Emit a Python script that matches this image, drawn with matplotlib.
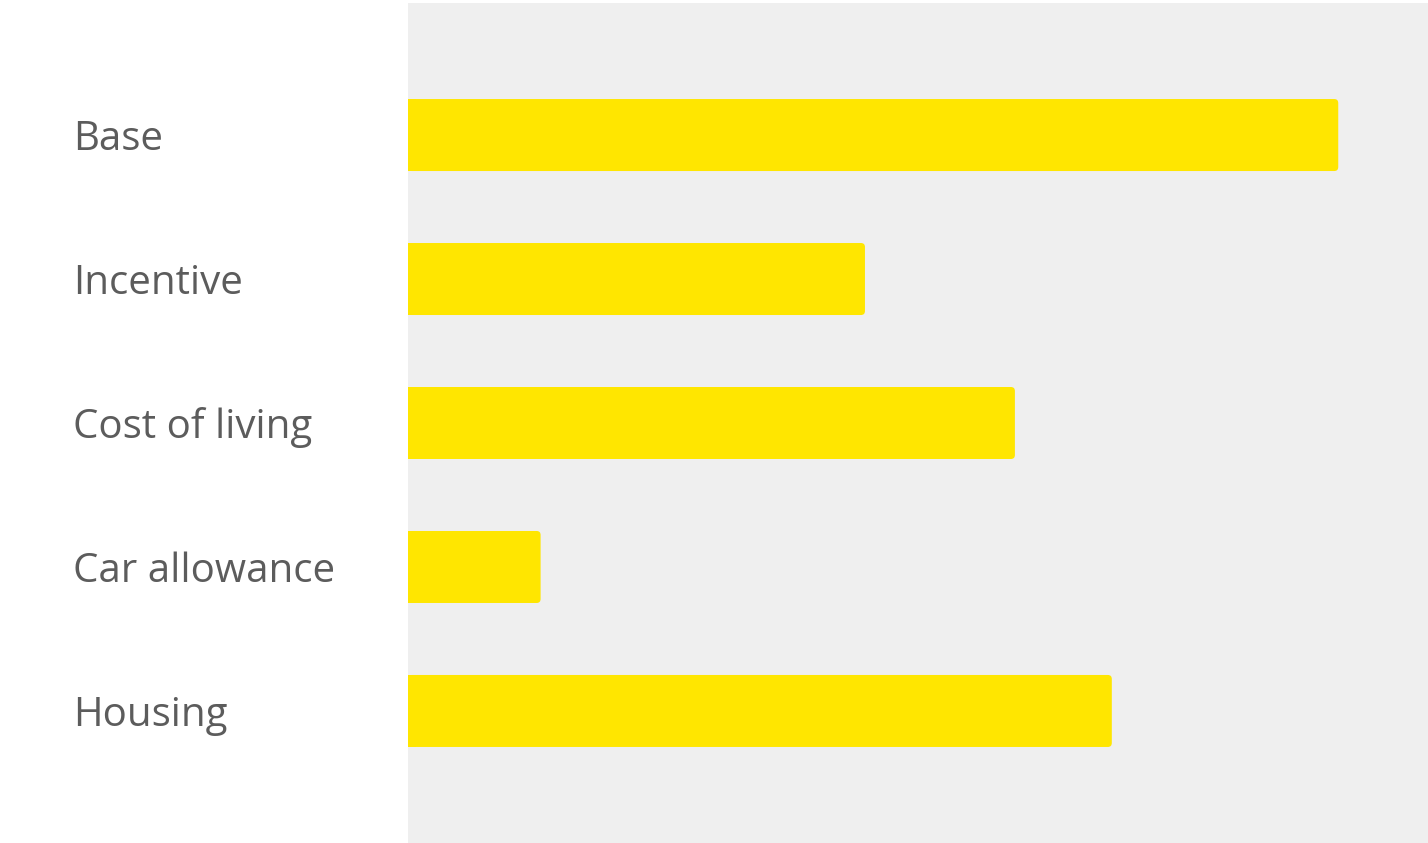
import matplotlib
matplotlib.use('Agg')
import matplotlib.pyplot as plt
from matplotlib.patches import FancyBboxPatch, Rectangle
from matplotlib.transforms import blended_transform_factory

categories = ['Base', 'Incentive', 'Cost of living', 'Car allowance', 'Housing']
values = [91.2, 44.8, 59.5, 13.0, 69.0]

W, H = 1428, 843
fig = plt.figure(figsize=(W / 100, H / 100), dpi=100)
fig.patch.set_facecolor('white')
ax = fig.add_axes([408 / W, 0, 1020 / W, 840 / H])
ax.set_facecolor('#efefef')
for s in ax.spines.values():
    s.set_visible(False)
ax.set_xticks([])
ax.set_yticks([])
ax.set_xlim(0, 100)
ax.set_ylim(4.917, -0.917)

bar_h = 0.5
yellow = '#ffe600'
# px per data unit
px_x = 1020 / 100
px_y = 144
r = 4 / px_x
for i, v in enumerate(values):
    ax.add_patch(FancyBboxPatch((0, i - bar_h / 2), v, bar_h,
                                boxstyle=f'round,pad=0,rounding_size={r}',
                                mutation_aspect=px_x / px_y,
                                fc=yellow, ec='none'))
    ax.add_patch(Rectangle((0, i - bar_h / 2), r * 2, bar_h, fc=yellow, ec='none'))

tr = blended_transform_factory(fig.transFigure, ax.transData)
for i, c in enumerate(categories):
    fig.text(73 / W, i + 0.03, c, transform=tr, ha='left', va='center',
             fontsize=29, color='#5c5c5c', family='Open Sans')

fig.savefig('out.png', dpi=100)
